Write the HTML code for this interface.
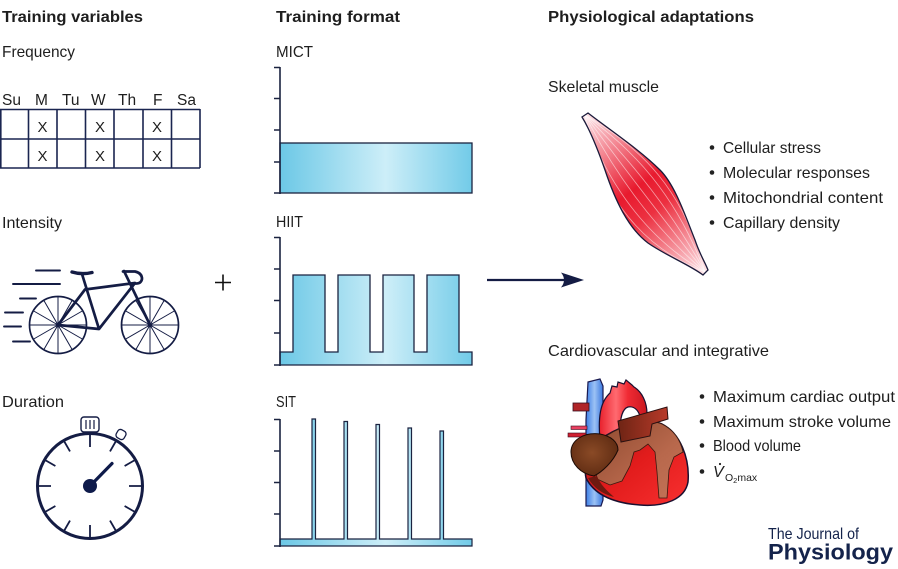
<!DOCTYPE html>
<html><head><meta charset="utf-8">
<style>
html,body{margin:0;padding:0;background:#fff;}
svg{display:block;}
text{font-family:"Liberation Sans",Arial,sans-serif;fill:#1e1e1e;}
.b{font-weight:bold;}
</style></head>
<body>
<svg width="898" height="569" viewBox="0 0 898 569" xmlns="http://www.w3.org/2000/svg">
<defs>
<linearGradient id="blu" x1="0" y1="0" x2="1" y2="0">
<stop offset="0" stop-color="#6cc8e6"/>
<stop offset="0.55" stop-color="#cdeef8"/>
<stop offset="1" stop-color="#72cbe8"/>
</linearGradient>
<linearGradient id="mus" gradientUnits="userSpaceOnUse" x1="585" y1="115" x2="705" y2="272">
<stop offset="0" stop-color="#fde6ea"/>
<stop offset="0.45" stop-color="#e81a2e"/>
<stop offset="0.6" stop-color="#ec3040"/>
<stop offset="1" stop-color="#fde6ea"/>
</linearGradient>
<clipPath id="mclip"><path d="M582 117 L588 113 C610 130 640 150 660 170 C675 185 685 215 695 240 C700 255 705 262 708 270 L703 275 C690 265 665 255 648 243 C628 228 615 200 605 170 C598 150 590 130 582 117 Z"/></clipPath>
<linearGradient id="vein" x1="0" y1="0" x2="1" y2="0">
<stop offset="0" stop-color="#3d7fe6"/>
<stop offset="0.5" stop-color="#9cc2f4"/>
<stop offset="1" stop-color="#3a78e0"/>
</linearGradient>
<linearGradient id="aor" x1="0" y1="0" x2="1" y2="0">
<stop offset="0" stop-color="#e8202c"/>
<stop offset="0.35" stop-color="#ff6a70"/>
<stop offset="0.6" stop-color="#f02a34"/>
<stop offset="1" stop-color="#c81820"/>
</linearGradient>
<linearGradient id="body" x1="0" y1="0" x2="1" y2="1">
<stop offset="0" stop-color="#a01212"/>
<stop offset="0.5" stop-color="#e21c1c"/>
<stop offset="1" stop-color="#f83030"/>
</linearGradient>
<linearGradient id="brn" x1="0" y1="0" x2="1" y2="1">
<stop offset="0" stop-color="#8e4a30"/>
<stop offset="0.6" stop-color="#b8684c"/>
<stop offset="1" stop-color="#c47458"/>
</linearGradient>
<radialGradient id="atr" cx="0.45" cy="0.45" r="0.65">
<stop offset="0" stop-color="#8a4a26"/>
<stop offset="1" stop-color="#5a2810"/>
</radialGradient>
<linearGradient id="pa" x1="0" y1="0" x2="1" y2="0">
<stop offset="0" stop-color="#6e2414"/>
<stop offset="1" stop-color="#b83a2a"/>
</linearGradient>
</defs>

<!-- Column titles -->
<text x="2" y="22" class="b" font-size="16" textLength="141" lengthAdjust="spacingAndGlyphs">Training variables</text>
<text x="276" y="22" class="b" font-size="16" textLength="124" lengthAdjust="spacingAndGlyphs">Training format</text>
<text x="548" y="22" class="b" font-size="16" textLength="206" lengthAdjust="spacingAndGlyphs">Physiological adaptations</text>

<!-- Frequency -->
<text x="2" y="57" font-size="16" textLength="73" lengthAdjust="spacingAndGlyphs">Frequency</text>
<g font-size="15.5">
<text x="2" y="105">Su</text>
<text x="35" y="105">M</text>
<text x="62" y="105">Tu</text>
<text x="91" y="105">W</text>
<text x="118" y="105">Th</text>
<text x="153" y="105">F</text>
<text x="177" y="105">Sa</text>
</g>
<g stroke="#1a2550" stroke-width="1.6" fill="none">
<path d="M0 109.5 H200 M0 139 H200 M0 168 H200"/>
<path d="M0.8 109 V168 M28.5 109 V168 M57 109 V168 M85.5 109 V168 M114 109 V168 M143 109 V168 M171.5 109 V168 M200 109 V168"/>
</g>
<g font-size="15" text-anchor="middle">
<text x="42.5" y="132">X</text><text x="100" y="132">X</text><text x="157" y="132">X</text>
<text x="42.5" y="161">X</text><text x="100" y="161">X</text><text x="157" y="161">X</text>
</g>

<!-- Intensity -->
<text x="2" y="228" font-size="16" textLength="60" lengthAdjust="spacingAndGlyphs">Intensity</text>
<g stroke="#141c44" stroke-width="1.9" fill="none" stroke-linecap="round">
<path d="M36 270.5 H60 M13 284 H60 M20 298.5 H36 M5 312.5 H23 M4 326.5 H21 M13 341.5 H30"/>
</g>
<g stroke="#141c44" stroke-width="1.7" fill="none">
<circle cx="58" cy="325" r="28.5"/>
<circle cx="150" cy="325" r="28.5"/>
</g>
<g stroke="#141c44" stroke-width="1" fill="none">
<path d="M58 296.5 V353.5 M29.5 325 H86.5 M43.75 300.3 L72.25 349.7 M43.75 349.7 L72.25 300.3 M33.3 310.75 L82.7 339.25 M33.3 339.25 L82.7 310.75"/>
<path d="M150 296.5 V353.5 M121.5 325 H178.5 M135.75 300.3 L164.25 349.7 M135.75 349.7 L164.25 300.3 M125.3 310.75 L174.7 339.25 M125.3 339.25 L174.7 310.75"/>
</g>
<circle cx="58" cy="325" r="2.4" fill="#141c44"/>
<circle cx="150" cy="325" r="2.4" fill="#141c44"/>
<g stroke="#141c44" stroke-width="2.7" fill="none" stroke-linecap="round" stroke-linejoin="round">
<path d="M82 274 L99 329 L135 283 L85 289.5 L58 325 L99 329"/>
<path d="M124 271 L150 325"/>
<path d="M123 271.5 L135 271.5 Q142 273 142 279 Q141 284 135 283.5"/>
</g>
<path d="M72 272 Q82 275 92 272.5" stroke="#141c44" stroke-width="3.4" fill="none" stroke-linecap="round"/>

<!-- plus -->
<path d="M215 282.5 H231 M223 274.5 V290.5" stroke="#111" stroke-width="1.6"/>

<!-- Duration -->
<text x="2" y="407" font-size="16" textLength="62" lengthAdjust="spacingAndGlyphs">Duration</text>
<rect x="81" y="417" width="18" height="15" rx="3" fill="#fff" stroke="#141c44" stroke-width="1.4"/>
<path d="M86 420 V429 M90 420 V429 M94 420 V429" stroke="#141c44" stroke-width="1.2"/>
<rect x="116.5" y="430" width="9" height="9" rx="3" fill="#fff" stroke="#141c44" stroke-width="1.3" transform="rotate(30 121 434.5)"/>
<circle cx="90" cy="486" r="52.5" fill="#fff" stroke="#141c44" stroke-width="3"/>
<g stroke="#141c44" stroke-width="1.8">
<path d="M90 434 V447 M90 538 V525 M38 486 H51 M142 486 H129"/>
<path d="M116 441 L110 451.4 M64 531 L70 520.6 M64 441 L70 451.4 M116 531 L110 520.6"/>
<path d="M45 460 L55.4 466 M135 512 L124.6 506 M45 512 L55.4 506 M135 460 L124.6 466"/>
</g>
<path d="M90 486 L112 463.5" stroke="#0e1a4a" stroke-width="3.2" stroke-linecap="round"/>
<circle cx="90" cy="486" r="7" fill="#0e1a4a"/>

<!-- MICT -->
<text x="276" y="57" font-size="16" textLength="37" lengthAdjust="spacingAndGlyphs">MICT</text>
<rect x="280" y="143" width="192" height="50" fill="url(#blu)" stroke="#1b2340" stroke-width="1.3"/>
<path d="M280 67 V194 M274 67.5 H280 M274 98.5 H280 M274 130 H280 M274 162 H280 M274 193 H280" stroke="#1b2340" stroke-width="1.6" fill="none"/>

<!-- HIIT -->
<text x="276" y="227" font-size="16" textLength="27" lengthAdjust="spacingAndGlyphs">HIIT</text>
<path d="M280 352 L293 352 L293 275 L325 275 L325 352 L338 352 L338 275 L370 275 L370 352 L383 352 L383 275 L414 275 L414 352 L427 352 L427 275 L459 275 L459 352 L472 352 L472 365 L280 365 Z" fill="url(#blu)" stroke="#1b2340" stroke-width="1.3"/>
<path d="M280 237 V366 M274 237.5 H280 M274 269 H280 M274 300.5 H280 M274 333 H280 M274 365 H280" stroke="#1b2340" stroke-width="1.6" fill="none"/>

<!-- SIT -->
<text x="276" y="407" font-size="16" textLength="20" lengthAdjust="spacingAndGlyphs">SIT</text>
<path d="M280 539 L312 539 L312 419 L315.5 419 L315.5 539 L344 539 L344 421.5 L347.5 421.5 L347.5 539 L376 539 L376 424.5 L379.5 424.5 L379.5 539 L408 539 L408 428 L411.5 428 L411.5 539 L440 539 L440 431 L443.5 431 L443.5 539 L472 539 L472 546 L280 546 Z" fill="url(#blu)" stroke="#1b2340" stroke-width="1.2"/>
<path d="M280 419 V547 M274 419.5 H280 M274 451 H280 M274 482.5 H280 M274 514 H280 M274 546 H280" stroke="#1b2340" stroke-width="1.6" fill="none"/>

<!-- Arrow -->
<path d="M487 280 H570" stroke="#141c44" stroke-width="2.2"/>
<path d="M584 280 L561 272.5 Q567 280 561 287.5 Z" fill="#141c44"/>

<!-- Skeletal muscle -->
<text x="548" y="92" font-size="16" textLength="111" lengthAdjust="spacingAndGlyphs">Skeletal muscle</text>
<path d="M582 117 L588 113 C610 130 640 150 660 170 C675 185 685 215 695 240 C700 255 705 262 708 270 L703 275 C690 265 665 255 648 243 C628 228 615 200 605 170 C598 150 590 130 582 117 Z" fill="url(#mus)"/>
<g clip-path="url(#mclip)" stroke="#ffffff" stroke-opacity="0.55" stroke-width="0.8" fill="none">
<path d="M585 115 C600 170 640 235 705 272"/>
<path d="M585 115 C610 165 650 225 705 272"/>
<path d="M585 115 C618 160 660 215 705 272"/>
<path d="M585 115 C626 155 668 205 705 272"/>
<path d="M585 115 C634 150 676 195 705 272"/>
<path d="M585 115 C594 178 630 243 705 272"/>
<path d="M585 115 C642 148 684 190 705 272"/>
</g>
<path d="M582 117 L588 113 C610 130 640 150 660 170 C675 185 685 215 695 240 C700 255 705 262 708 270 L703 275 C690 265 665 255 648 243 C628 228 615 200 605 170 C598 150 590 130 582 117 Z" fill="none" stroke="#1a1a3a" stroke-width="1.3"/>
<g font-size="16">
<circle cx="712" cy="147.5" r="2.3" fill="#222"/>
<text x="723" y="153" textLength="98" lengthAdjust="spacingAndGlyphs">Cellular stress</text>
<circle cx="712" cy="172.5" r="2.3" fill="#222"/>
<text x="723" y="178" textLength="147" lengthAdjust="spacingAndGlyphs">Molecular responses</text>
<circle cx="712" cy="197.5" r="2.3" fill="#222"/>
<text x="723" y="203" textLength="160" lengthAdjust="spacingAndGlyphs">Mitochondrial content</text>
<circle cx="712" cy="222.5" r="2.3" fill="#222"/>
<text x="723" y="228" textLength="117" lengthAdjust="spacingAndGlyphs">Capillary density</text>
</g>

<!-- Cardiovascular -->
<text x="548" y="356" font-size="16" textLength="221" lengthAdjust="spacingAndGlyphs">Cardiovascular and integrative</text>

<!-- heart -->
<path d="M588 382 L600 379 L603 386 L603 500 L601 506 L586 506 L586 420 Z" fill="url(#vein)" stroke="#1a1a50" stroke-width="1.2"/>
<rect x="573" y="403" width="16" height="8" fill="#b02428" stroke="#3a1020" stroke-width="0.8"/>
<rect x="571" y="426" width="16" height="3.5" fill="#e84060" stroke="#3a1020" stroke-width="0.6"/>
<rect x="568" y="433" width="18" height="4" fill="#d02030" stroke="#3a1020" stroke-width="0.6"/>
<path d="M600 440 C598 418 600 402 610 393 L612 386 L617 387 L618 382 L624 384 L626 380 L632 385 L634 387 C642 392 647 402 647 414 L640 416 C638 410 634 406 628 407 C622 409 620 418 620 432 Z" fill="url(#aor)" stroke="#1a1030" stroke-width="1.2"/>
<path d="M605 436 C625 424 648 418 662 424 C680 433 690 458 688 482 C685 499 665 507 640 505 C612 503 594 494 586 478 C583 465 592 446 605 436 Z" fill="url(#body)" stroke="#1a1030" stroke-width="1.5"/>
<path d="M606 436 C625 424 648 418 662 424 C672 429 680 438 683 452 L674 457 L669 470 L667 498 L659 498 L657 472 L655 452 L648 444 L640 450 L634 452 L630 466 L622 481 L610 485 L597 479 C594 465 598 448 606 436 Z" fill="url(#brn)" stroke="#3a1a10" stroke-width="0.8"/>
<path d="M618 421 L667 407 L668 419 L652 424 L650 436 L621 442 Z" fill="url(#pa)" stroke="#2a1010" stroke-width="1"/>
<path d="M588 478 C594 488 602 494 614 497 C606 490 600 484 597 476 Z" fill="#6e1a10"/>
<path d="M571 452 C571 440 584 432 600 434 C611 436 618 442 618 450 C613 462 602 472 594 476 C581 474 571 464 571 452 Z" fill="url(#atr)" stroke="#1a0a05" stroke-width="1"/>

<g font-size="16">
<circle cx="702" cy="396.5" r="2.3" fill="#222"/>
<text x="713" y="402" textLength="182" lengthAdjust="spacingAndGlyphs">Maximum cardiac output</text>
<circle cx="702" cy="421.5" r="2.3" fill="#222"/>
<text x="713" y="427" textLength="178" lengthAdjust="spacingAndGlyphs">Maximum stroke volume</text>
<circle cx="702" cy="445.5" r="2.3" fill="#222"/>
<text x="713" y="451" textLength="88" lengthAdjust="spacingAndGlyphs">Blood volume</text>
<circle cx="702" cy="471.5" r="2.3" fill="#222"/>
<text x="713" y="477" font-style="italic">V</text>
<circle cx="720" cy="464" r="1.1" fill="#222"/>
<text x="725" y="481" font-size="10.5">O<tspan font-size="7.5" dy="2">2</tspan><tspan dy="-2">max</tspan></text>
</g>

<!-- Journal logo -->
<text x="768" y="539" font-size="16" style="fill:#14234b" textLength="91" lengthAdjust="spacingAndGlyphs">The Journal of</text>
<text x="768" y="559.5" font-size="22" class="b" style="fill:#14234b" textLength="125" lengthAdjust="spacingAndGlyphs">Physiology</text>
</svg>
</body></html>
